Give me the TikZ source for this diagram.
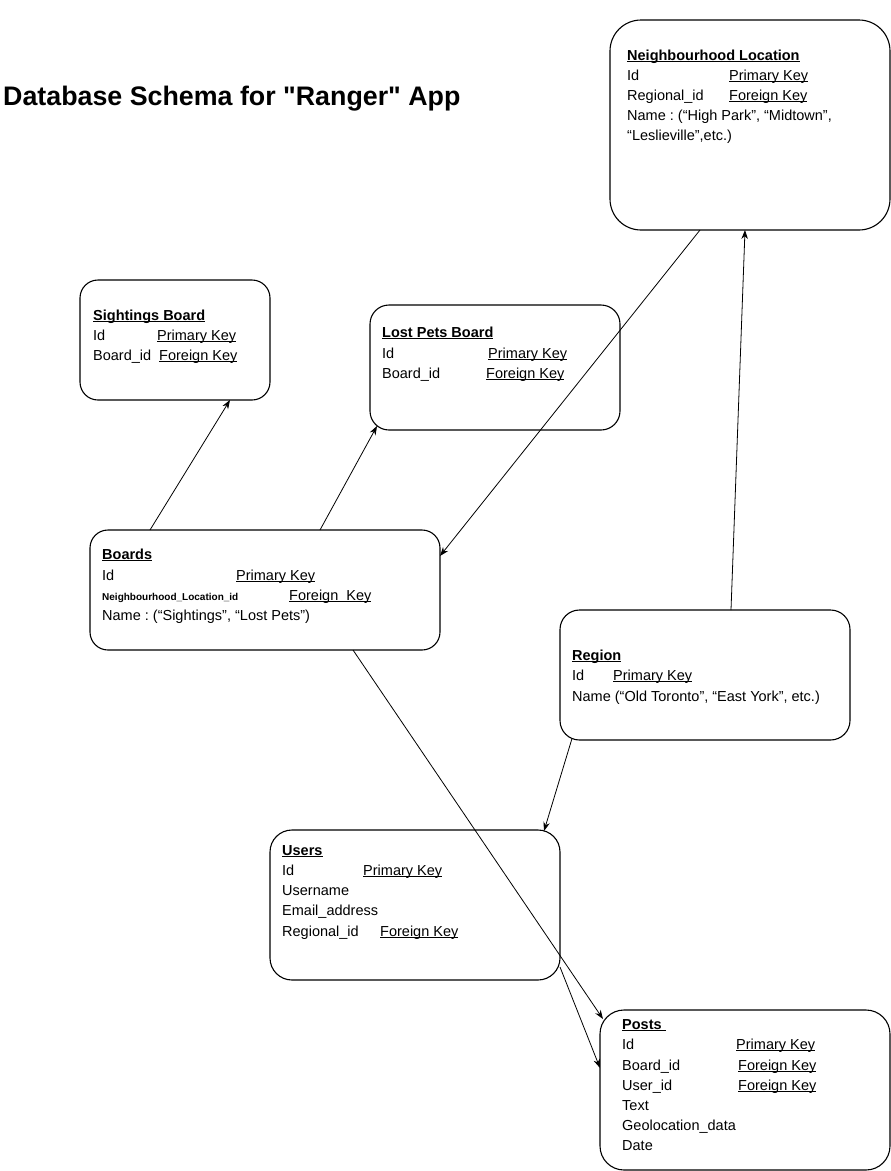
\documentclass[tikz,border=0pt]{standalone}
\usepackage{fontspec}
\setmainfont{Liberation Sans}[Ligatures=TeXOff]
\usetikzlibrary{arrows.meta}
\frenchspacing

% underline drawn just below the baseline, as in the reference
\newcommand{\ulin}[1]{\setbox0\hbox{#1}\rlap{\rule[-1.7pt]{\wd0}{0.8pt}}\box0}

\begin{document}
\begin{tikzpicture}[x=1pt,y=-1pt,
  tbl/.style={draw,line width=1.1pt,inner sep=0,outer sep=0},
  fld/.style={anchor=base west,inner sep=0,font=\fontsize{14.5}{17}\selectfont},
  hdr/.style={fld,font=\fontsize{14.5}{17}\selectfont\bfseries},
  link/.style={line width=0.8pt,-{Stealth[length=9pt,width=6.5pt]}}]
\useasboundingbox (0,0) rectangle (891,1171);

% title
\node[anchor=base west,inner sep=0,font=\fontsize{26.8}{30}\selectfont\bfseries] (title) at (3,105) {Database Schema for "Ranger" App};

% tables
\node[tbl,rounded corners=31,minimum width=280,minimum height=210] (nbhd) at (750,125) {};
\node[tbl,rounded corners=18,minimum width=190,minimum height=120] (sight) at (175,340) {};
\node[tbl,rounded corners=19,minimum width=250,minimum height=125] (lost) at (495,367.5) {};
\node[tbl,rounded corners=18,minimum width=350,minimum height=120] (boards) at (265,590) {};
\node[tbl,rounded corners=19.5,minimum width=290,minimum height=130] (region) at (705,675) {};
\node[tbl,rounded corners=22,minimum width=290,minimum height=150] (users) at (415,905) {};
\node[tbl,rounded corners=24,minimum width=290,minimum height=160] (posts) at (745,1090) {};

% Neighbourhood Location
\node[hdr] (nbhd-t) at (627,60) {\ulin{Neighbourhood Location}};
\node[fld] (nbhd-id) at (627,80) {Id};
\node[fld] (nbhd-pk) at (729,80) {\ulin{Primary Key}};
\node[fld] (nbhd-rid) at (627,100) {Regional\_id};
\node[fld] (nbhd-fk) at (729,100) {\ulin{Foreign Key}};
\node[fld] (nbhd-n1) at (627,120) {Name : (“High Park”, “Midtown”,};
\node[fld] (nbhd-n2) at (627,140) {“Leslieville”,etc.)};

% Sightings Board
\node[hdr] (sight-t) at (93,320) {\ulin{Sightings Board}};
\node[fld] (sight-id) at (93,340) {Id};
\node[fld] (sight-pk) at (157,340) {\ulin{Primary Key}};
\node[fld] (sight-bid) at (93,360) {Board\_id};
\node[fld] (sight-fk) at (159,360) {\ulin{Foreign Key}};

% Lost Pets Board
\node[hdr] (lost-t) at (382,337) {\ulin{Lost Pets Board}};
\node[fld] (lost-id) at (382,358) {Id};
\node[fld] (lost-pk) at (488,358) {\ulin{Primary Key}};
\node[fld] (lost-bid) at (382,378) {Board\_id};
\node[fld] (lost-fk) at (486,378) {\ulin{Foreign Key}};

% Boards
\node[hdr] (boards-t) at (102,559) {\ulin{Boards}};
\node[fld] (boards-id) at (102,580) {Id};
\node[fld] (boards-pk) at (236,580) {\ulin{Primary Key}};
\node[fld,font=\fontsize{10}{12}\selectfont\bfseries] (boards-nid) at (102,600) {Neighbourhood\_Location\_id};
\node[fld] (boards-fk) at (289,600) {\ulin{Foreign\ \ Key}};
\node[fld] (boards-n) at (102,620) {Name : (“Sightings”, “Lost Pets”)};

% Region
\node[hdr] (region-t) at (572,660) {\ulin{Region}};
\node[fld] (region-id) at (572,680) {Id};
\node[fld] (region-pk) at (613,680) {\ulin{Primary Key}};
\node[fld] (region-n) at (572,701) {Name (“Old Toronto”, “East York”, etc.)};

% Users
\node[hdr] (users-t) at (282,855) {\ulin{Users}};
\node[fld] (users-id) at (282,875) {Id};
\node[fld] (users-pk) at (363,875) {\ulin{Primary Key}};
\node[fld] (users-un) at (282,895) {Username};
\node[fld] (users-em) at (282,915) {Email\_address};
\node[fld] (users-rid) at (282,936) {Regional\_id};
\node[fld] (users-fk) at (380,936) {\ulin{Foreign Key}};

% Posts
\node[hdr] (posts-t) at (622,1029) {\ulin{Posts\ }};
\node[fld] (posts-id) at (622,1049) {Id};
\node[fld] (posts-pk) at (736,1049) {\ulin{Primary Key}};
\node[fld] (posts-bid) at (622,1070) {Board\_id};
\node[fld] (posts-bfk) at (738,1070) {\ulin{Foreign Key}};
\node[fld] (posts-uid) at (622,1090) {User\_id};
\node[fld] (posts-ufk) at (738,1090) {\ulin{Foreign Key}};
\node[fld] (posts-tx) at (622,1110) {Text};
\node[fld] (posts-geo) at (622,1130) {Geolocation\_data};
\node[fld] (posts-dt) at (622,1150) {Date};

% relations
\draw[link] ([xshift=-115pt]boards.north) -- ([xshift=55pt]sight.south);
\draw[link] ([xshift=55pt]boards.north) -- ([xshift=7pt,yshift=4pt]lost.south west);
\draw[link] ([xshift=-50pt]nbhd.south) -- ([yshift=34pt]boards.east);
\draw[link] ([xshift=26pt]region.north) -- ([xshift=-5pt]nbhd.south);
\draw[link] ([xshift=12pt,yshift=1.5pt]region.south west) -- ([xshift=-16pt,yshift=-1pt]users.north east);
\draw[link] ([xshift=88pt]boards.south) -- ([xshift=3pt,yshift=-9pt]posts.north west);
\draw[link] ([yshift=-62pt]users.east) -- ([yshift=22pt]posts.west);
\end{tikzpicture}
\end{document}
